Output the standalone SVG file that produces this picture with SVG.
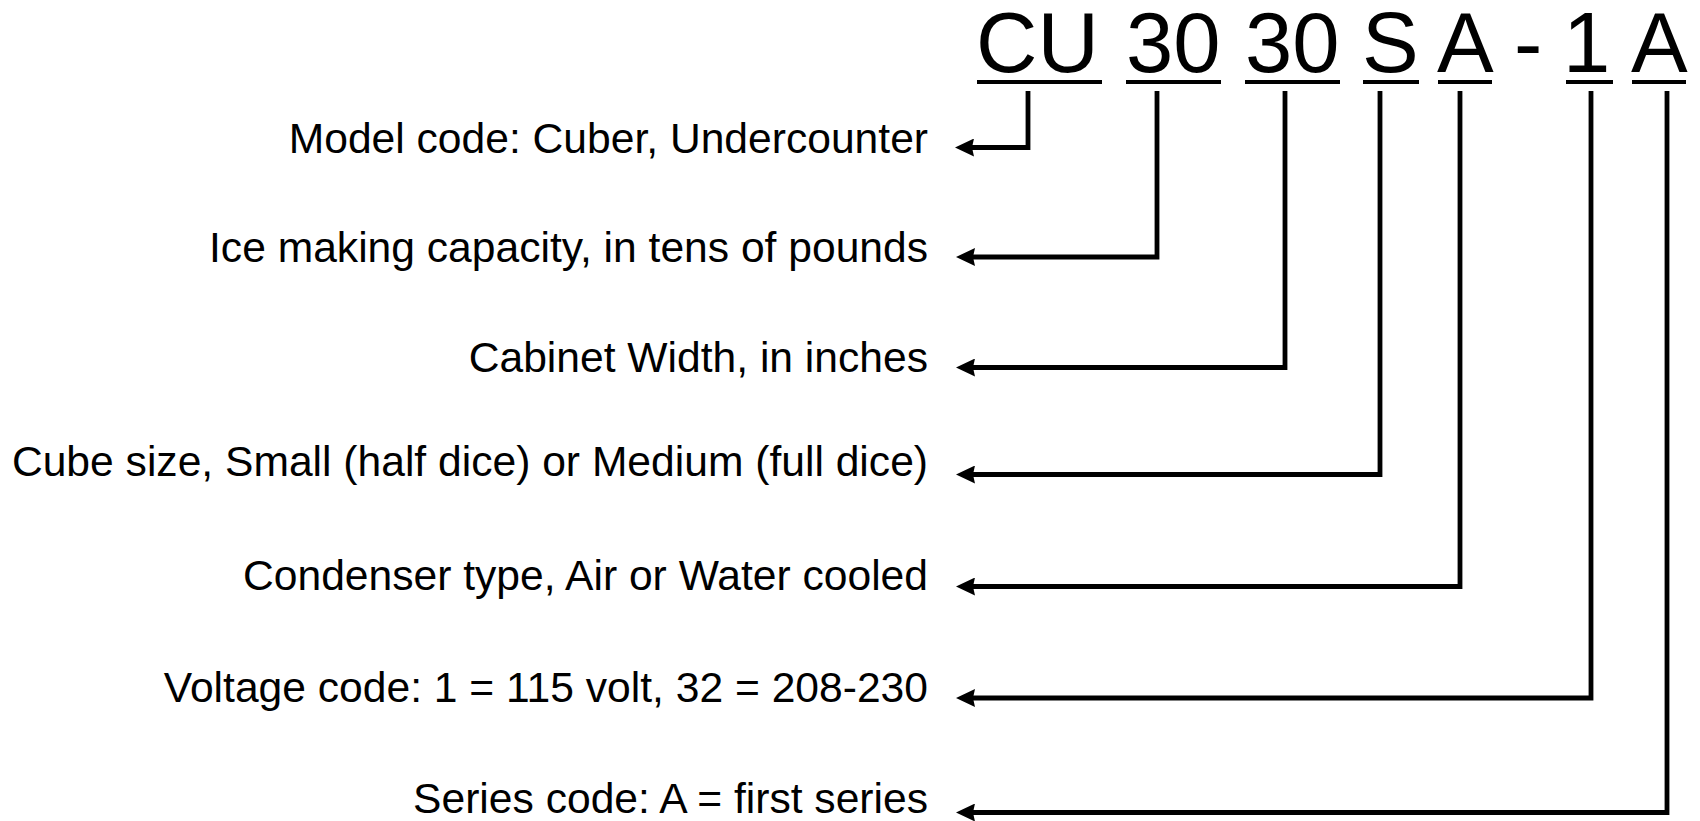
<svg xmlns="http://www.w3.org/2000/svg" width="1700" height="821" viewBox="0 0 1700 821">
  <style>
    .code { font-family: "Liberation Sans", Arial, sans-serif; font-size: 85px; fill: #000; }
    .label { font-family: "Liberation Sans", Arial, sans-serif; font-size: 42.6px; fill: #000; text-anchor: end; }
    .uline { stroke: #000; stroke-width: 4; fill: none; }
    .conn { stroke: #000; stroke-width: 4.8; fill: none; stroke-linejoin: miter; }
  </style>
  <defs>
    <marker id="arrow" markerUnits="userSpaceOnUse" viewBox="0 0 19 18" markerWidth="19" markerHeight="18" refX="12" refY="9" orient="auto">
      <path d="M0,0 L19,9 L0,18 L2,9 z" fill="#000"/>
    </marker>
  </defs>
  <rect width="1700" height="821" fill="#fff"/>

  <g id="code-CU"><text class="code" x="976" y="72">CU</text><line class="uline" x1="977" y1="82" x2="1102" y2="82"/></g>
  <g id="code-30a"><text class="code" x="1126" y="72">30</text><line class="uline" x1="1126" y1="82" x2="1221" y2="82"/></g>
  <g id="code-30b"><text class="code" x="1245" y="72">30</text><line class="uline" x1="1245" y1="82" x2="1340" y2="82"/></g>
  <g id="code-S"><text class="code" x="1362" y="72">S</text><line class="uline" x1="1363" y1="82" x2="1419" y2="82"/></g>
  <g id="code-A1"><text class="code" x="1437" y="72">A</text><line class="uline" x1="1438" y1="82" x2="1492" y2="82"/></g>
  <g id="code-dash"><text class="code" x="1514" y="72">-</text></g>
  <g id="code-1"><text class="code" x="1563" y="72">1</text><line class="uline" x1="1566" y1="82" x2="1613" y2="82"/></g>
  <g id="code-A2"><text class="code" x="1631" y="72">A</text><line class="uline" x1="1632" y1="82" x2="1686" y2="82"/></g>

  <g id="label-model"><text class="label" x="928" y="153">Model code: Cuber, Undercounter</text></g>
  <g id="label-capacity"><text class="label" x="928" y="262">Ice making capacity, in tens of pounds</text></g>
  <g id="label-width"><text class="label" x="928" y="372">Cabinet Width, in inches</text></g>
  <g id="label-cube"><text class="label" x="928" y="476">Cube size, Small (half dice) or Medium (full dice)</text></g>
  <g id="label-condenser"><text class="label" x="928" y="590">Condenser type, Air or Water cooled</text></g>
  <g id="label-voltage"><text class="label" x="928" y="702">Voltage code: 1 = 115 volt, 32 = 208-230</text></g>
  <g id="label-series"><text class="label" x="928" y="813">Series code: A = first series</text></g>

  <g id="connectors">
    <path class="conn" marker-end="url(#arrow)" d="M1028,91 V147.5 H962"/>
    <path class="conn" marker-end="url(#arrow)" d="M1157,91 V257 H963"/>
    <path class="conn" marker-end="url(#arrow)" d="M1285,91 V367.5 H963"/>
    <path class="conn" marker-end="url(#arrow)" d="M1380,91 V474.5 H963"/>
    <path class="conn" marker-end="url(#arrow)" d="M1460,91 V586.5 H963"/>
    <path class="conn" marker-end="url(#arrow)" d="M1591,91 V698 H963"/>
    <path class="conn" marker-end="url(#arrow)" d="M1667,91 V812.5 H963"/>
  </g>
</svg>
